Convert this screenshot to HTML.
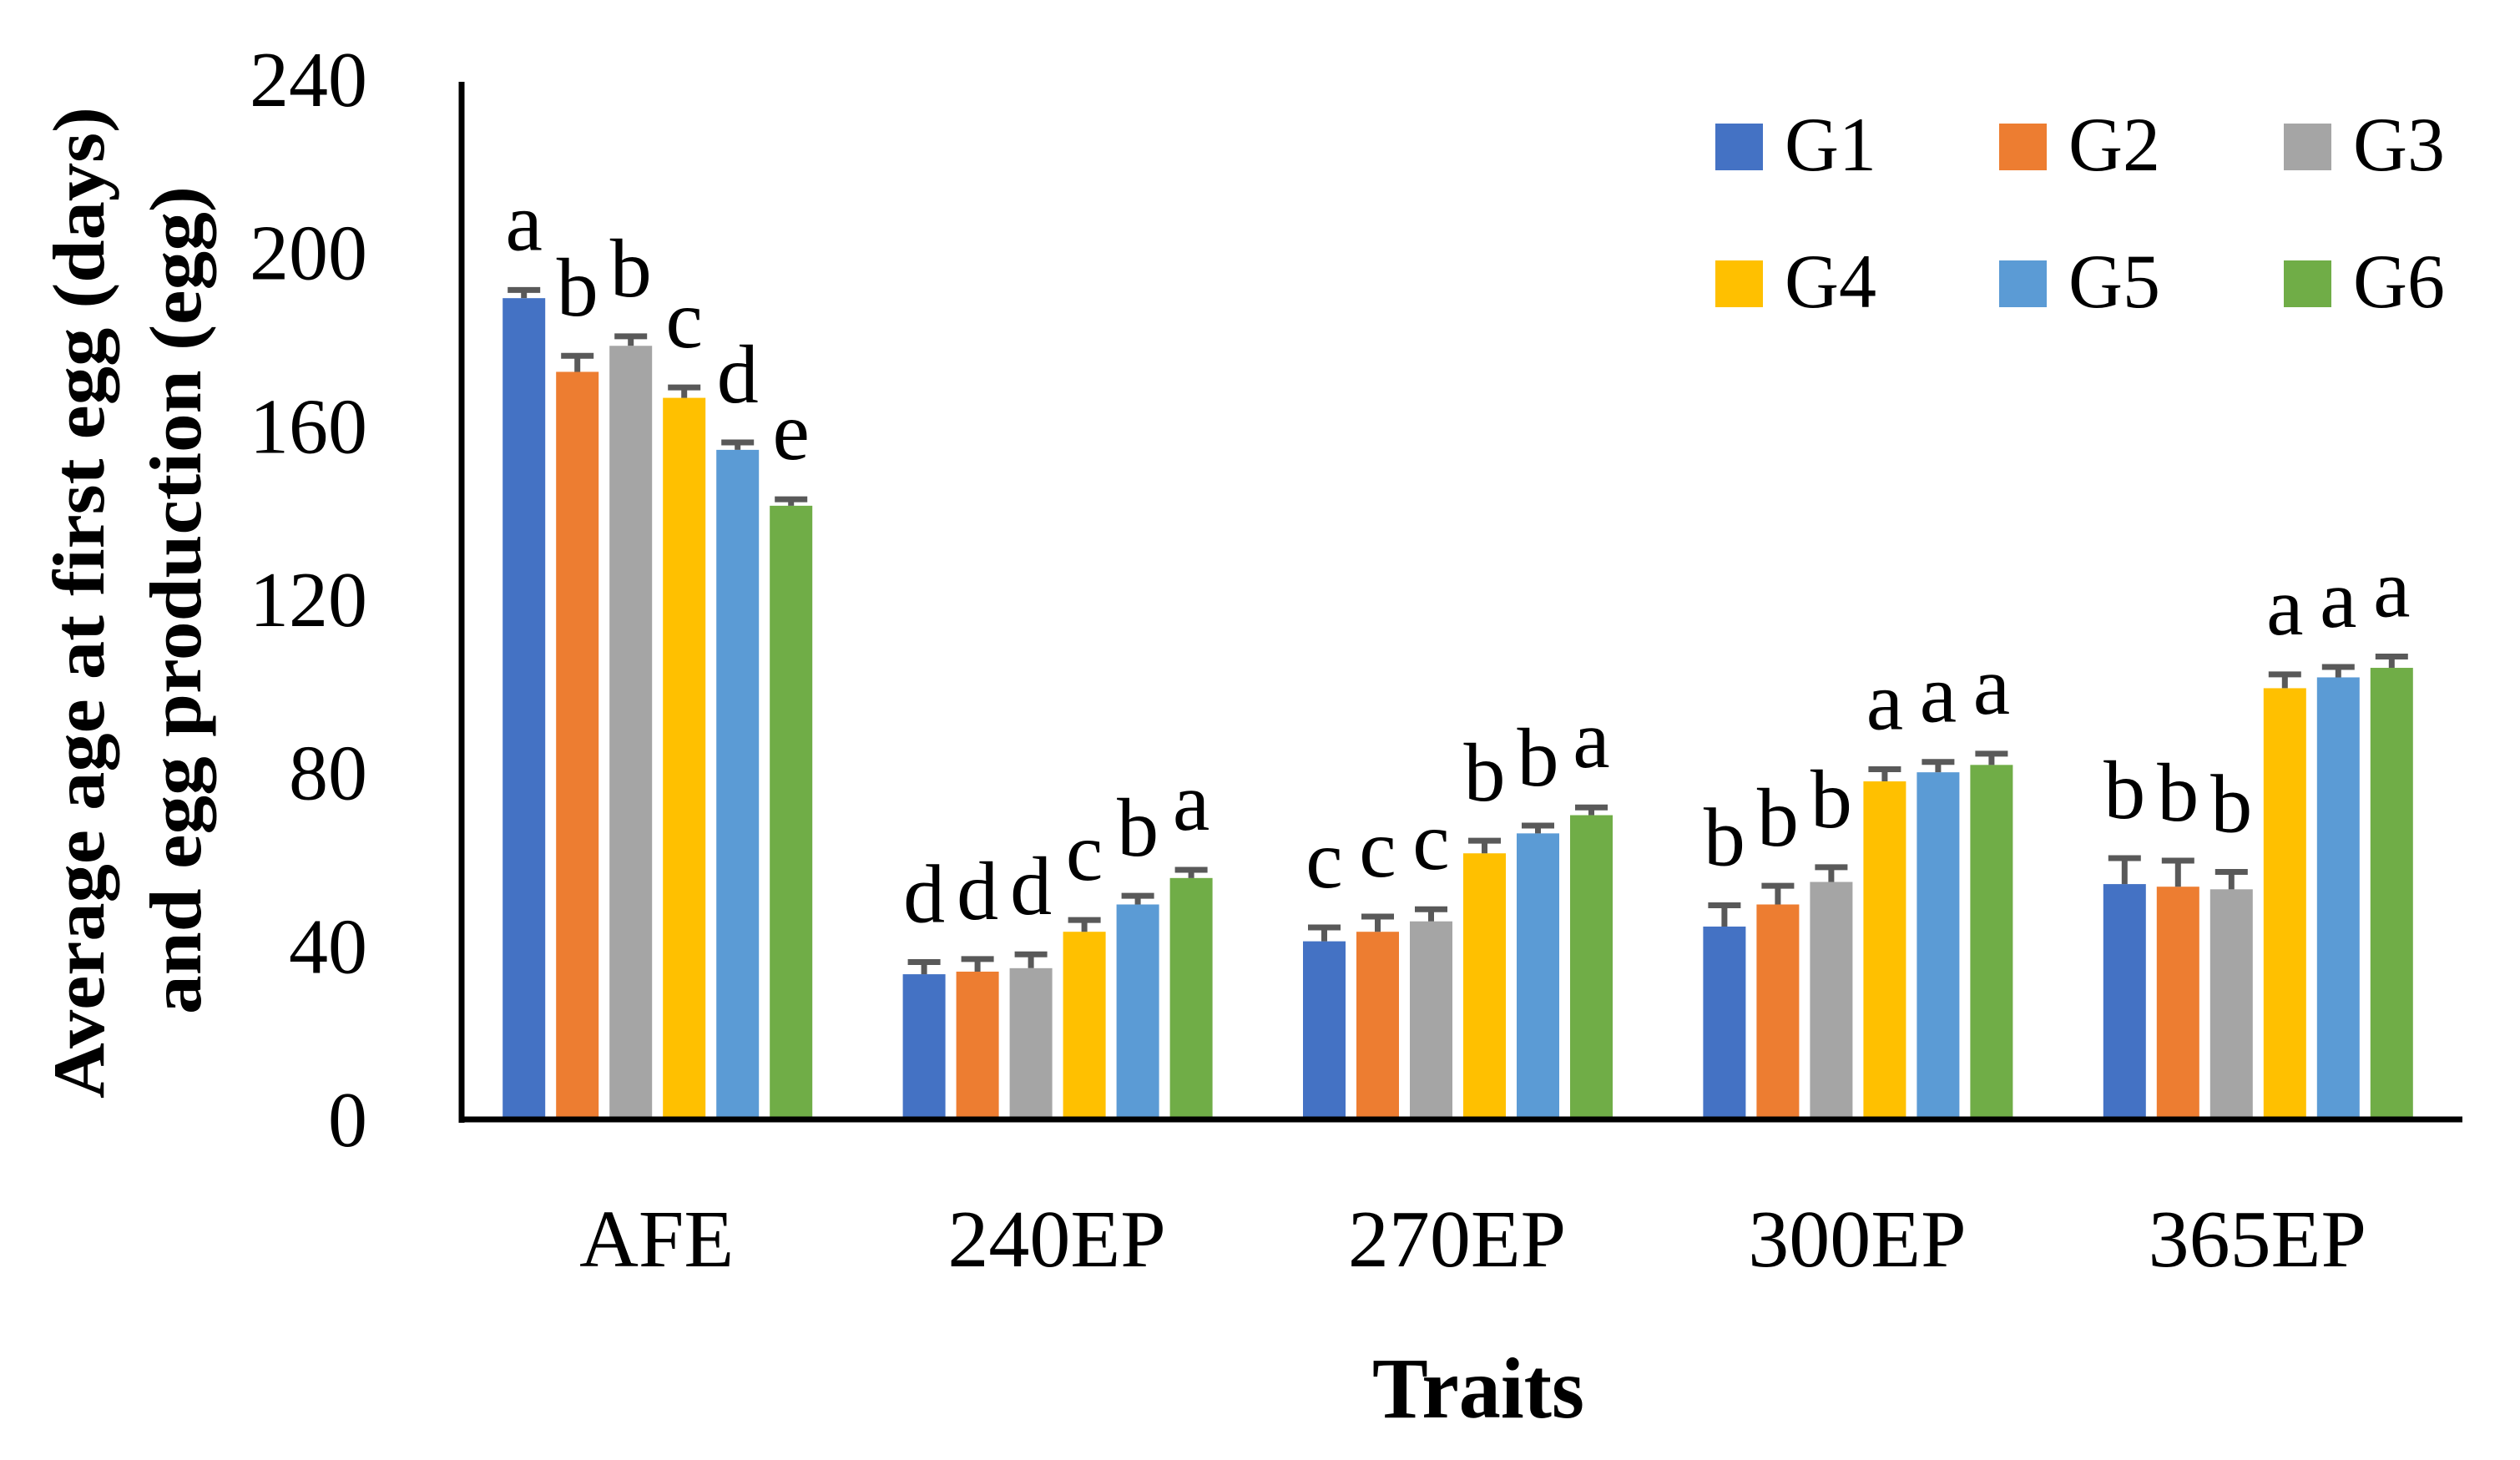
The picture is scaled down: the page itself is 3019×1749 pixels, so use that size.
<!DOCTYPE html>
<html><head><meta charset="utf-8"><style>
html,body{margin:0;padding:0;background:#fff;}
svg{display:block;font-family:"Liberation Serif",serif;}
</style></head><body>
<svg id="chart" width="3019" height="1749" viewBox="0 0 3019 1749" xmlns="http://www.w3.org/2000/svg">
<g id="plot"></g>
<g id="axes"></g>
<g id="legend"></g>
<text x="1771" y="1698" font-size="104" font-weight="bold" text-anchor="middle" textLength="254" lengthAdjust="spacingAndGlyphs">Traits</text>
<text transform="translate(124,722) rotate(-90)" font-size="88" font-weight="bold" text-anchor="middle" textLength="1188" lengthAdjust="spacingAndGlyphs">Average age at first egg (days)</text>
<text transform="translate(240,719) rotate(-90)" font-size="88" font-weight="bold" text-anchor="middle" textLength="992" lengthAdjust="spacingAndGlyphs">and egg production (egg)</text>
</svg>
<script>
const categories = ["AFE","240EP","270EP","300EP","365EP"];
const groups = ["G1","G2","G3","G4","G5","G6"];
const colors = ["#4472C4","#ED7D31","#A5A5A5","#FFC000","#5B9BD5","#70AD47"];
const G1 = [189.5, 33.5, 41.1, 44.5, 54.3];
const G2 = [172.5, 34.1, 43.3, 49.6, 53.7];
const G3 = [178.5, 34.9, 45.7, 54.8, 53.1];
const G4 = [166.5, 43.3, 61.4, 78.0, 99.5];
const G5 = [154.5, 49.6, 66.0, 80.1, 102.0];
const G6 = [141.6, 55.7, 70.2, 81.8, 104.2];
const E1 = [1.9, 2.8, 3.2, 4.9, 6.0];
const E2 = [3.7, 2.9, 3.5, 4.3, 6.0];
const E3 = [2.2, 3.2, 2.8, 3.4, 4.0];
const E4 = [2.4, 2.7, 2.9, 2.8, 3.2];
const E5 = [1.7, 2.0, 1.8, 2.4, 2.4];
const E6 = [1.5, 1.9, 1.8, 2.6, 2.6];
const L1 = ["a","d","c","b","b"];
const L2 = ["b","d","c","b","b"];
const L3 = ["b","d","c","b","b"];
const L4 = ["c","c","b","a","a"];
const L5 = ["d","b","b","a","a"];
const L6 = ["e","a","a","a","a"];
const yTicks = [0,40,80,120,160,200,240];

const series=[G1,G2,G3,G4,G5,G6], errs=[E1,E2,E3,E4,E5,E6], lets=[L1,L2,L3,L4,L5,L6];
const NS="http://www.w3.org/2000/svg";
const X0=553, X1=2950, Y0=1341, YT=95, YMAX=240;
const y=v=>Y0-v*(Y0-YT)/YMAX;
const catW=(X1-X0)/categories.length, pitch=64, bw=51;
const barX=(c,g)=>X0+catW*c+catW/2-5-(groups.length*pitch-(pitch-bw))/2+g*pitch;
function mk(t,a,p){const e=document.createElementNS(NS,t);for(const k in a)e.setAttribute(k,a[k]);p.appendChild(e);return e;}
const plot=document.getElementById('plot'), axes=document.getElementById('axes'), leg=document.getElementById('legend');
categories.forEach((cat,c)=>{
  groups.forEach((g,gi)=>{
    const v=series[gi][c], er=errs[gi][c], x=barX(c,gi), cx=x+bw/2;
    const r=mk('rect',{x:x,y:y(v),width:bw,height:Y0-y(v),fill:colors[gi]},plot);
    
    
    const eb=mk('path',{d:`M${cx} ${y(v)} V${y(v+er)} M${cx-19.5} ${y(v+er)} H${cx+19.5}`,stroke:'#595959','stroke-width':7,fill:'none'},plot);
    
    
    const t=mk('text',{x:cx,y:y(v+er)-48,'font-size':100,'text-anchor':'middle'},plot);
    t.textContent=lets[gi][c];
    
    
  });
  const cl=mk('text',{x:X0+catW*c+catW/2-6,y:1517,'font-size':98,'text-anchor':'middle'},axes);
  cl.textContent=cat;
  
  
});
yTicks.forEach(v=>{
  const t=mk('text',{x:440,y:y(v)+32,'font-size':94,'text-anchor':'end'},axes);
  t.textContent=v;
  
  
});
const ya=mk('line',{x1:X0,y1:98,x2:X0,y2:Y0+4,stroke:'#000','stroke-width':7},axes);


const xa=mk('line',{x1:X0-3,y1:Y0,x2:X1,y2:Y0,stroke:'#000','stroke-width':7},axes);


const lx=[2055,2395,2736], ly=[148,312];
groups.forEach((g,i)=>{
  const col=i%3,row=Math.floor(i/3);
  const e=mk('g',{},leg);
  
  
  mk('rect',{x:lx[col],y:ly[row],width:57,height:56,fill:colors[i]},e);
  const t=mk('text',{x:lx[col]+83,y:ly[row]+56,'font-size':92,textLength:110,lengthAdjust:'spacingAndGlyphs'},e);
  t.textContent=g;
});
</script>
</body></html>
